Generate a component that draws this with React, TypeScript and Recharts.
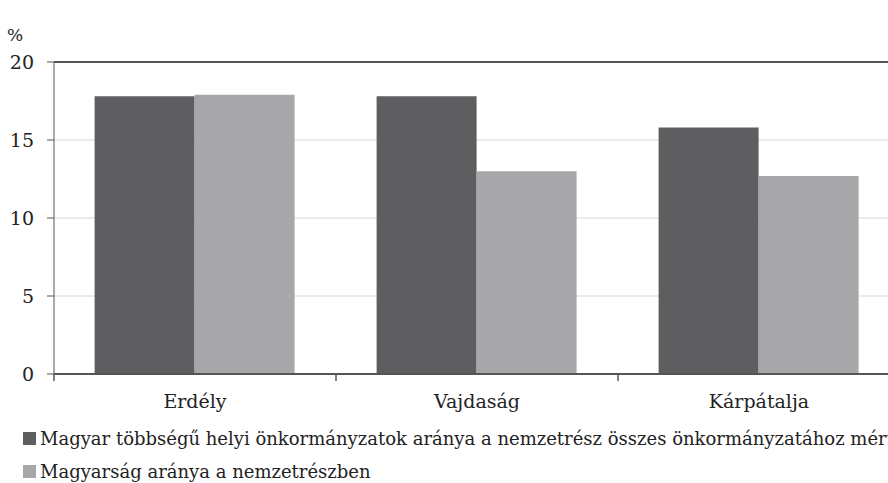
import { BarChart, Bar, XAxis, YAxis, CartesianGrid, ReferenceLine } from "recharts";

const categories = ["Erdély", "Vajdaság", "Kárpátalja"];
const localGovShare = [17.8, 17.8, 15.8];
const populationShare = [17.9, 13.0, 12.7];
const seriesNames = [
  "Magyar többségű helyi önkormányzatok aránya a nemzetrész összes önkormányzatához mérten",
  "Magyarság aránya a nemzetrészben",
];
const yTicks = [0, 5, 10, 15, 20];

const COLORS = ["#5e5e60", "#a7a7aa"];
const FONT = "DejaVu Serif";
const LABEL_GAP = 21;

const data = categories.map((name, i) => ({
  name,
  a: localGovShare[i],
  b: populationShare[i],
}));

// category label plus the small tick marks at the band edges
function CategoryTick(props: any) {
  const { x, y, payload, index, visibleTicksCount } = props;
  const half = payload.offset || 0;
  const top = y - LABEL_GAP;
  const last = index === visibleTicksCount - 1;
  return (
    <g>
      <line x1={x - half} x2={x - half} y1={top} y2={top + 7} stroke="#555" strokeWidth={1.5} />
      {last && (
        <line x1={x + half} x2={x + half} y1={top} y2={top + 7} stroke="#555" strokeWidth={1.5} />
      )}
      <text x={x} y={y} dy="0.71em" textAnchor="middle" fill="#222" fontSize={19} fontFamily={FONT}>
        {payload.value}
      </text>
    </g>
  );
}

export default function App() {
  return (
    <div
      style={{
        position: "fixed",
        left: 0,
        top: 0,
        width: 888,
        height: 483,
        overflow: "hidden",
        background: "#fff",
        fontFamily: FONT,
        color: "#222",
      }}
    >
      <div style={{ position: "absolute", left: 7, top: 25, fontSize: 17 }}>%</div>
      <BarChart
        width={910}
        height={483}
        data={data}
        margin={{ top: 62, right: 10, bottom: 0, left: 0 }}
        barCategoryGap="14.4%"
        barGap={0}
        style={{ fontFamily: FONT }}
      >
        <CartesianGrid vertical={false} stroke="#d6d6d6" />
        <XAxis
          dataKey="name"
          height={109}
          axisLine={{ stroke: "#555", strokeWidth: 2 }}
          tickLine={false}
          tickSize={0}
          tickMargin={LABEL_GAP}
          tick={<CategoryTick />}
        />
        <YAxis
          domain={[0, 20]}
          ticks={yTicks}
          width={54}
          axisLine={{ stroke: "#555" }}
          tickLine={{ stroke: "#555" }}
          tickSize={7}
          tickMargin={13}
          tick={{ fill: "#222", fontSize: 19, fontFamily: FONT }}
        />
        <ReferenceLine y={20} stroke="#555" strokeWidth={2} />
        <Bar dataKey="a" fill={COLORS[0]} isAnimationActive={false} />
        <Bar dataKey="b" fill={COLORS[1]} isAnimationActive={false} />
      </BarChart>
      {seriesNames.map((s, i) => (
        <div
          key={s}
          style={{
            position: "absolute",
            left: 23,
            top: 425 + i * 33,
            height: 26,
            fontSize: 18,
            whiteSpace: "nowrap",
            display: "flex",
            alignItems: "center",
          }}
        >
          <span
            style={{
              display: "inline-block",
              width: 13,
              height: 13,
              background: COLORS[i],
              marginRight: 4,
            }}
          />
          {s}
        </div>
      ))}
    </div>
  );
}
